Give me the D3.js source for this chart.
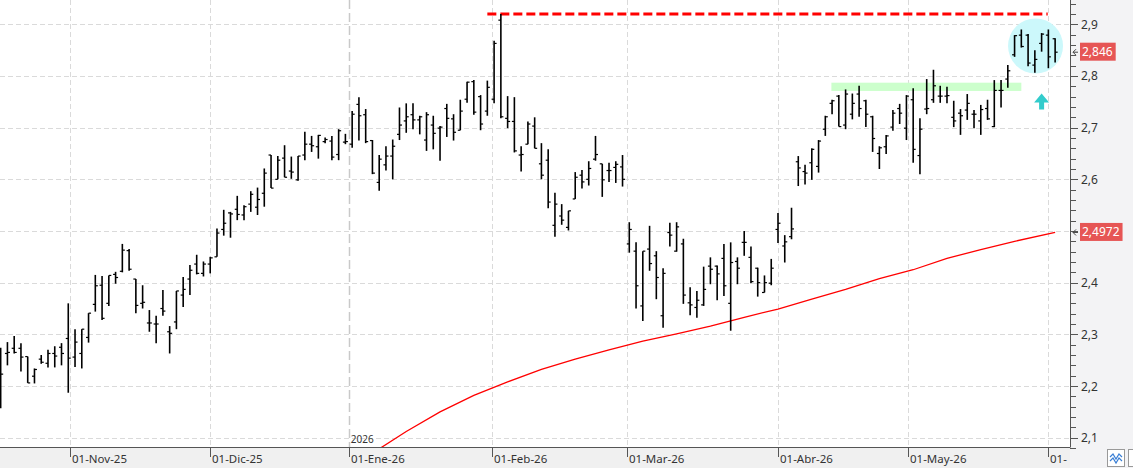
<!DOCTYPE html>
<html><head><meta charset="utf-8">
<script src="https://cdn.jsdelivr.net/npm/d3@7"></script>
<style>html,body{margin:0;padding:0;background:#fff;overflow:hidden}svg{display:block}</style>
</head><body>
<svg id="c" width="1133" height="468"></svg>
<script>
// ---- DATA (bar index 0..156, daily OHLC) ----
const opens = [
2.262,2.263,2.273,2.273,2.257,2.219,2.252,2.244,2.263,2.275,
2.292,2.256,2.263,2.294,2.358,2.395,2.360,2.416,2.422,2.462,
2.407,2.360,2.322,2.320,2.350,2.305,2.324,2.376,2.407,2.436,
2.418,2.436,2.450,2.503,2.535,2.542,2.531,2.552,2.546,2.573,
2.647,2.600,2.641,2.616,2.599,2.647,2.668,2.663,2.673,2.674,
2.648,2.672,2.668,2.745,2.725,2.675,2.594,2.628,2.645,2.687,
2.713,2.725,2.715,2.676,2.705,2.699,2.737,2.717,2.695,2.755,
2.789,2.760,2.732,2.755,2.908,2.718,2.712,2.647,2.668,2.703,
2.630,2.637,2.511,2.529,2.507,2.562,2.608,2.600,2.639,2.630,
2.617,2.623,2.624,2.475,2.461,2.355,2.465,2.452,2.336,2.497,
2.461,2.475,2.361,2.352,2.357,2.432,2.432,2.447,2.360,2.441,
2.478,2.449,2.428,2.381,2.399,2.503,2.471,2.489,2.634,2.615,
2.632,2.625,2.697,2.747,2.761,2.705,2.726,2.765,2.752,2.721,
2.650,2.663,2.701,2.737,2.699,2.754,2.646,2.736,2.754,2.761,
2.761,2.720,2.728,2.734,2.726,2.713,2.737,2.702,2.772,2.794,
2.841,2.879,2.879,2.821,2.863,2.879,2.872];
const highs = [
2.274,2.285,2.297,2.283,2.257,2.234,2.260,2.270,2.277,2.283,
2.360,2.310,2.310,2.341,2.415,2.413,2.414,2.421,2.475,2.465,
2.407,2.395,2.347,2.336,2.386,2.316,2.384,2.411,2.434,2.454,
2.441,2.450,2.505,2.541,2.537,2.568,2.550,2.577,2.584,2.621,
2.647,2.645,2.666,2.644,2.645,2.692,2.684,2.686,2.681,2.684,
2.697,2.688,2.732,2.759,2.736,2.676,2.647,2.664,2.677,2.739,
2.747,2.747,2.723,2.730,2.723,2.703,2.746,2.726,2.754,2.789,
2.792,2.763,2.791,2.868,2.920,2.761,2.759,2.664,2.712,2.720,
2.670,2.658,2.574,2.552,2.539,2.614,2.618,2.635,2.684,2.630,
2.632,2.635,2.647,2.517,2.478,2.461,2.510,2.461,2.428,2.516,
2.517,2.485,2.391,2.384,2.431,2.449,2.433,2.475,2.478,2.449,
2.500,2.470,2.429,2.414,2.446,2.535,2.492,2.545,2.645,2.628,
2.660,2.676,2.723,2.754,2.763,2.774,2.766,2.781,2.754,2.723,
2.664,2.686,2.734,2.746,2.763,2.776,2.718,2.794,2.812,2.781,
2.779,2.752,2.736,2.765,2.734,2.744,2.754,2.792,2.792,2.821,
2.879,2.890,2.881,2.850,2.883,2.890,2.873];
const lows = [
2.157,2.240,2.263,2.228,2.206,2.205,2.243,2.236,2.236,2.240,
2.187,2.237,2.234,2.284,2.344,2.328,2.355,2.398,2.420,2.423,
2.341,2.350,2.305,2.283,2.336,2.263,2.310,2.353,2.376,2.416,
2.412,2.418,2.450,2.491,2.487,2.521,2.521,2.537,2.531,2.547,
2.583,2.600,2.604,2.601,2.597,2.637,2.653,2.640,2.670,2.637,
2.637,2.668,2.661,2.675,2.670,2.610,2.578,2.617,2.600,2.676,
2.690,2.697,2.687,2.655,2.658,2.636,2.682,2.675,2.695,2.748,
2.725,2.695,2.723,2.747,2.718,2.699,2.652,2.615,2.668,2.660,
2.600,2.544,2.489,2.512,2.501,2.562,2.582,2.588,2.636,2.566,
2.595,2.593,2.586,2.458,2.350,2.326,2.423,2.368,2.313,2.470,
2.460,2.359,2.337,2.332,2.355,2.397,2.366,2.374,2.307,2.397,
2.452,2.399,2.373,2.381,2.395,2.477,2.439,2.484,2.587,2.590,
2.599,2.613,2.684,2.726,2.702,2.697,2.716,2.721,2.701,2.653,
2.620,2.649,2.694,2.707,2.676,2.632,2.610,2.726,2.748,2.748,
2.747,2.701,2.686,2.715,2.699,2.686,2.715,2.701,2.739,2.777,
2.837,2.855,2.819,2.806,2.847,2.815,2.826];
const closes = [
2.223,2.265,2.265,2.256,2.206,2.232,2.246,2.263,2.258,2.263,
2.254,2.285,2.310,2.341,2.394,2.331,2.414,2.410,2.463,2.426,
2.356,2.362,2.322,2.320,2.345,2.302,2.384,2.387,2.424,2.418,
2.436,2.448,2.496,2.515,2.533,2.532,2.547,2.571,2.561,2.612,
2.583,2.637,2.604,2.614,2.645,2.668,2.665,2.685,2.677,2.643,
2.694,2.673,2.726,2.723,2.673,2.612,2.639,2.645,2.664,2.705,
2.721,2.715,2.721,2.725,2.689,2.701,2.718,2.691,2.732,2.788,
2.730,2.707,2.778,2.863,2.721,2.712,2.655,2.648,2.707,2.660,
2.608,2.556,2.552,2.521,2.539,2.604,2.595,2.621,2.648,2.599,
2.617,2.629,2.600,2.503,2.394,2.461,2.437,2.410,2.418,2.492,
2.508,2.376,2.357,2.366,2.387,2.426,2.417,2.394,2.439,2.428,
2.478,2.402,2.400,2.400,2.428,2.515,2.479,2.504,2.622,2.612,
2.658,2.674,2.721,2.752,2.702,2.765,2.747,2.737,2.726,2.679,
2.661,2.684,2.728,2.728,2.761,2.658,2.697,2.737,2.781,2.761,
2.762,2.713,2.723,2.747,2.726,2.735,2.717,2.772,2.772,2.810,
2.878,2.857,2.825,2.832,2.881,2.837,2.846];

// moving average (red line), read at bar indices
const maIdx  = [55,60,65,70,75,80,85,90,95,100,105,110,115,120,125,130,135,140,145,150,156];
const maVals = [2.070,2.112,2.150,2.182,2.208,2.232,2.252,2.270,2.287,2.301,2.316,2.333,2.349,2.368,2.387,2.408,2.425,2.447,2.464,2.480,2.4972];

// x-axis ticks (bar-index positions of the 1st of each month)
const monthTickPos = [10.33,31,51.5,72.67,92.67,115,134.25,155];
const monthTickLabels = ["01-Nov-25","01-Dic-25","01-Ene-26","01-Feb-26","01-Mar-26","01-Abr-26","01-May-26","01-"];
const yearSepPos = 51.5;
const yearLabel = "2026";
const yTicks = [2.1,2.2,2.3,2.4,2.5,2.6,2.7,2.8,2.9];

// annotations
const resistanceLevel = 2.920, resistanceFrom = 72, resistanceTo = 154.9;
const zoneFrom = 122.9, zoneTo = 151.0, zoneLo = 2.771, zoneHi = 2.787;
const circleIdx = 153.1, circleVal = 2.858;
const arrowIdx = 154.0, arrowTipVal = 2.766;
const lastClose = 2.846, lastMA = 2.4972;

// ---- LAYOUT ----
const W = 1133, H = 468, PR = 1070, PB = 447;
const svg = d3.select("#c");
const x = d3.scaleLinear().domain([-0.1, 158.2]).range([0, PR]);
const y = d3.scaleLinear().domain([2.082, 2.947]).range([PB, 0]);
const loc = d3.formatLocale({decimal:",", thousands:".", grouping:[3], currency:["","€"]});
const f1 = loc.format(".1f");
const FONT = "'Noto Sans','Open Sans',sans-serif";

svg.append("defs").append("clipPath").attr("id","plot")
  .append("rect").attr("x",0).attr("y",0).attr("width",PR).attr("height",PB);

// backgrounds
svg.append("rect").attr("x",0).attr("y",0).attr("width",W).attr("height",H).attr("fill","#ffffff");
svg.append("rect").attr("x",PR).attr("y",0).attr("width",W-PR).attr("height",H).attr("fill","#f3f3f5");
svg.append("rect").attr("x",0).attr("y",PB).attr("width",PR).attr("height",H-PB).attr("fill","#f0f0f0");

// grid
const grid = svg.append("g");
grid.selectAll("line.h").data(yTicks).join("line")
  .attr("x1",0).attr("x2",PR).attr("y1",d=>Math.round(y(d))+0.5).attr("y2",d=>Math.round(y(d))+0.5)
  .attr("stroke","#dadada").attr("stroke-dasharray","5,3");
grid.selectAll("line.v").data(monthTickPos.filter(p=>p!==yearSepPos)).join("line")
  .attr("x1",d=>Math.round(x(d))+0.5).attr("x2",d=>Math.round(x(d))+0.5).attr("y1",0).attr("y2",PB)
  .attr("stroke","#dadada").attr("stroke-dasharray","5,3");
grid.append("line")
  .attr("x1",Math.round(x(yearSepPos))+0.5).attr("x2",Math.round(x(yearSepPos))+0.5).attr("y1",0).attr("y2",PB)
  .attr("stroke","#c9c9c9").attr("stroke-width",1.5).attr("stroke-dasharray","9,4");
grid.append("text").attr("x",x(yearSepPos)+2).attr("y",PB-4).text(yearLabel)
  .attr("font-family",FONT).attr("font-size",10).attr("fill","#333");

const plot = svg.append("g").attr("clip-path","url(#plot)");

// green zone
plot.append("rect").attr("x",x(zoneFrom)).attr("width",x(zoneTo)-x(zoneFrom))
  .attr("y",y(zoneHi)).attr("height",y(zoneLo)-y(zoneHi)).attr("fill","#ccffcc");

// circle
plot.append("circle").attr("cx",x(circleIdx)).attr("cy",y(circleVal)).attr("r",27.5).attr("fill","#ccf8fb");

// moving average
plot.append("path").datum(maIdx.map((d,i)=>[d,maVals[i]]))
  .attr("d",d3.line().x(d=>x(d[0])).y(d=>y(d[1])))
  .attr("fill","none").attr("stroke","#ff0000").attr("stroke-width",1.3);

// resistance
plot.append("line").attr("x1",x(resistanceFrom)).attr("x2",x(resistanceTo))
  .attr("y1",y(resistanceLevel)).attr("y2",y(resistanceLevel))
  .attr("stroke","#ff0000").attr("stroke-width",3).attr("stroke-dasharray","9,4");

// OHLC bars
const idx = d3.range(closes.length);
const bars = plot.append("g").attr("stroke","#000");
bars.selectAll("line.hl").data(idx).join("line")
  .attr("x1",i=>x(i)).attr("x2",i=>x(i)).attr("y1",i=>y(highs[i])).attr("y2",i=>y(lows[i]))
  .attr("stroke-width",1.6);
bars.selectAll("line.o").data(idx).join("line")
  .attr("x1",i=>x(i)-2.5).attr("x2",i=>x(i)).attr("y1",i=>y(opens[i])).attr("y2",i=>y(opens[i]))
  .attr("stroke-width",1.2);
bars.selectAll("line.c").data(idx).join("line")
  .attr("x1",i=>x(i)).attr("x2",i=>x(i)+2.5).attr("y1",i=>y(closes[i])).attr("y2",i=>y(closes[i]))
  .attr("stroke-width",1.2);

// cyan arrow
const ax = x(arrowIdx), ay = y(arrowTipVal);
plot.append("path")
  .attr("d",`M${ax},${ay} L${ax+7.5},${ay+9} L${ax+2.5},${ay+9} L${ax+2.5},${ay+16} L${ax-2.5},${ay+16} L${ax-2.5},${ay+9} L${ax-7.5},${ay+9} Z`)
  .attr("fill","#33cccc");

// axes lines
svg.append("line").attr("x1",PR+0.5).attr("x2",PR+0.5).attr("y1",0).attr("y2",PB+0.5).attr("stroke","#555");
svg.append("line").attr("x1",0).attr("x2",PR).attr("y1",PB+0.5).attr("y2",PB+0.5).attr("stroke","#555");

// right axis ticks
const minor = d3.range(2.08, 2.95, 0.02);
svg.append("g").selectAll("line").data(minor).join("line")
  .attr("x1",PR).attr("x2",PR+6).attr("y1",d=>Math.round(y(d))+0.5).attr("y2",d=>Math.round(y(d))+0.5)
  .attr("stroke","#555");
svg.append("g").selectAll("line").data(yTicks).join("line")
  .attr("x1",PR).attr("x2",PR+8).attr("y1",d=>Math.round(y(d))+0.5).attr("y2",d=>Math.round(y(d))+0.5)
  .attr("stroke","#555");
// tick labels hidden where a value box sits on top of them
const boxVals = [lastClose, lastMA];
const visibleTicks = yTicks.filter(t => boxVals.every(b => Math.abs(y(t) - y(b)) > 12));
svg.append("g").selectAll("text").data(visibleTicks).join("text")
  .attr("x",PR+11).attr("y",d=>y(d)+4.5).text(d=>f1(d))
  .attr("font-family",FONT).attr("font-size",12).attr("fill","#333");

// bottom ticks + labels
svg.append("g").selectAll("line").data(monthTickPos).join("line")
  .attr("x1",d=>Math.round(x(d))+0.5).attr("x2",d=>Math.round(x(d))+0.5).attr("y1",PB).attr("y2",PB+10)
  .attr("stroke","#555");
svg.append("g").selectAll("text").data(monthTickPos).join("text")
  .attr("x",d=>Math.round(x(d))+2).attr("y",PB+16).text((d,i)=>monthTickLabels[i])
  .attr("font-family",FONT).attr("font-size",11.5).attr("fill","#333");

// value boxes
function valueBox(v, label){
  const yy = y(v);
  const g = svg.append("g");
  g.append("path").attr("d",`M${PR+8},${yy} H${PR+3} M${PR+6},${yy-3} L${PR+3},${yy} L${PR+6},${yy+3}`)
    .attr("stroke","#444").attr("fill","none");
  const t = g.append("text").attr("x",PR+12).attr("y",yy+4).text(label)
    .attr("font-family",FONT).attr("font-size",12).attr("fill","#fff");
  const w = t.node().getComputedTextLength();
  g.insert("rect","text").attr("x",PR+10).attr("y",yy-9.5).attr("width",w+5).attr("height",18).attr("fill","#e65555");
}
valueBox(lastClose, loc.format(".3f")(lastClose));
valueBox(lastMA, loc.format(".4f")(lastMA));

// bottom-right small buttons
svg.append("rect").attr("x",1107.5).attr("y",449.5).attr("width",17).attr("height",17).attr("fill","#fff").attr("stroke","#999");
svg.append("path").attr("d","M1110,457 L1113,454 L1116,459 L1119,454 L1122,457 M1110,461 L1113,458 L1116,463 L1119,458 L1122,461")
  .attr("stroke","#3a7fd5").attr("fill","none").attr("stroke-width",1.2);
svg.append("rect").attr("x",1128.5).attr("y",449.5).attr("width",17).attr("height",17).attr("fill","#fff").attr("stroke","#999");
</script>
</body></html>
